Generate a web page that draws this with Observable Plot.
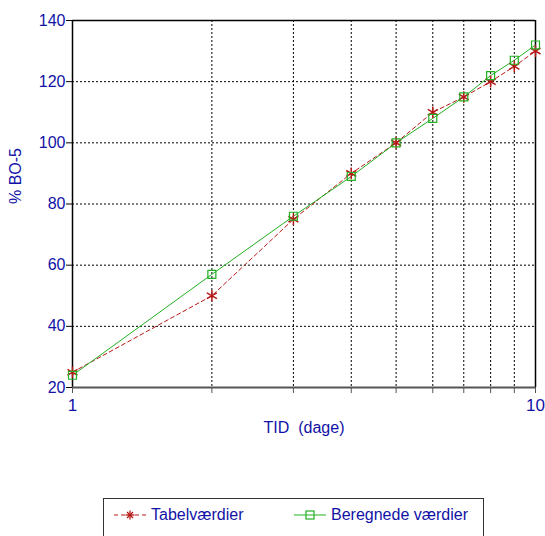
<!DOCTYPE html>
<html>
<head>
<meta charset="utf-8">
<script src="https://cdn.jsdelivr.net/npm/d3@7"></script>
<script src="https://cdn.jsdelivr.net/npm/@observablehq/plot@0.6"></script>
<style>
  html, body { margin: 0; padding: 0; background: #fff; }
  #wrap { position: relative; width: 545px; height: 536px; overflow: hidden; font-family: "Liberation Sans", Arial, sans-serif; }
  #legend { position: absolute; left: 103px; top: 498px; width: 381px; height: 60px; border: 1px solid #333; box-sizing: border-box; background: #fff; }
  .item { position: absolute; top: 7px; display: flex; align-items: center; color: #1212a6; font-size: 16px; }
  .item svg { margin-right: 4px; }
</style>
</head>
<body>
<div id="wrap"></div>
<script>
const tid = [1, 2, 3, 4, 5, 6, 7, 8, 9, 10];
const tabel = [25, 50, 75, 90, 100, 110, 115, 120, 125, 130];
const beregnede = [24, 57, 76, 89, 100, 108, 115, 122, 127, 132];
const yTicks = [20, 40, 60, 80, 100, 120, 140];
const xTicks = [1, 2, 3, 4, 5, 6, 7, 8, 9, 10];
const xLabels = {1: "1", 10: "10"};
const seriesNames = ["Tabelværdier", "Beregnede værdier"];

const blue = "#1212a6";
const red = "#b81818";
const green = "#22b022";

const rowsT = tid.map((t, i) => ({t, v: tabel[i]}));
const rowsB = tid.map((t, i) => ({t, v: beregnede[i]}));

const chart = Plot.plot({
  width: 545,
  height: 440,
  marginLeft: 72,
  marginRight: 10,
  marginTop: 20,
  marginBottom: 53,
  style: {background: "#fff", fontFamily: "'Liberation Sans', Arial, sans-serif", overflow: "visible"},
  x: {type: "log", domain: [1, 10]},
  y: {domain: [20, 140]},
  marks: [
    Plot.gridX([2, 3, 4, 5, 6, 7, 8, 9], {stroke: "#000", strokeOpacity: 1, strokeDasharray: "2,2"}),
    Plot.gridY([40, 60, 80, 100, 120], {stroke: "#000", strokeOpacity: 1, strokeDasharray: "2,2"}),
    Plot.ruleY([140], {stroke: "#000", strokeWidth: 1.5}),
    Plot.ruleX([10], {stroke: "#000", strokeWidth: 1.5}),
    Plot.ruleX([1], {stroke: "#000", strokeWidth: 1.5}),
    Plot.axisY(yTicks, {tickSize: 6, tickPadding: 1, fontSize: 16, color: blue, stroke: "#000", label: null}),
    Plot.axisX(xTicks, {tickSize: 6, tickPadding: 5, fontSize: 17, color: blue, stroke: "#555", tickFormat: d => xLabels[d] ?? "", label: null}),
    Plot.ruleY([20], {stroke: "#555", strokeWidth: 2}),
    Plot.text(["TID  (dage)"], {frameAnchor: "bottom", dy: 40, text: d => d, fill: blue, fontSize: 16, lineAnchor: "middle"}),
    Plot.text(["% BO-5"], {frameAnchor: "left", dx: -57, rotate: -90, text: d => d, fill: blue, fontSize: 16}),
    Plot.line(rowsT, {x: "t", y: "v", stroke: red, strokeWidth: 1, strokeDasharray: "4,3"}),
    Plot.line(rowsB, {x: "t", y: "v", stroke: green, strokeWidth: 1}),
    Plot.dot(rowsT, {x: "t", y: "v", symbol: "asterisk", stroke: red, r: 5.5, strokeWidth: 1.5}),
    Plot.dot(rowsB, {x: "t", y: "v", symbol: "square", stroke: green, fill: "none", r: 4.5, strokeWidth: 1.2})
  ]
});
// preserve double space in axis title
chart.querySelectorAll("text").forEach(t => { t.setAttribute("xml:space", "preserve"); t.style.whiteSpace = "pre"; });

const wrap = document.getElementById("wrap");
wrap.appendChild(chart);

const legend = document.createElement("div");
legend.id = "legend";
legend.innerHTML = `
  <div class="item" style="left:9px">
    <svg width="34" height="12"><line x1="1" y1="6" x2="33" y2="6" stroke="${red}" stroke-dasharray="4,3"/>
      <g stroke="${red}" stroke-width="1.3"><line x1="17" y1="1.5" x2="17" y2="10.5"/><line x1="12.5" y1="6" x2="21.5" y2="6"/><line x1="14" y1="3" x2="20" y2="9"/><line x1="20" y1="3" x2="14" y2="9"/></g></svg>
    <span>${seriesNames[0]}</span>
  </div>
  <div class="item" style="left:189px">
    <svg width="34" height="12"><line x1="1" y1="6" x2="33" y2="6" stroke="${green}"/>
      <rect x="13" y="2" width="8" height="8" fill="none" stroke="${green}" stroke-width="1.2"/></svg>
    <span>${seriesNames[1]}</span>
  </div>`;
wrap.appendChild(legend);
</script>
</body>
</html>
